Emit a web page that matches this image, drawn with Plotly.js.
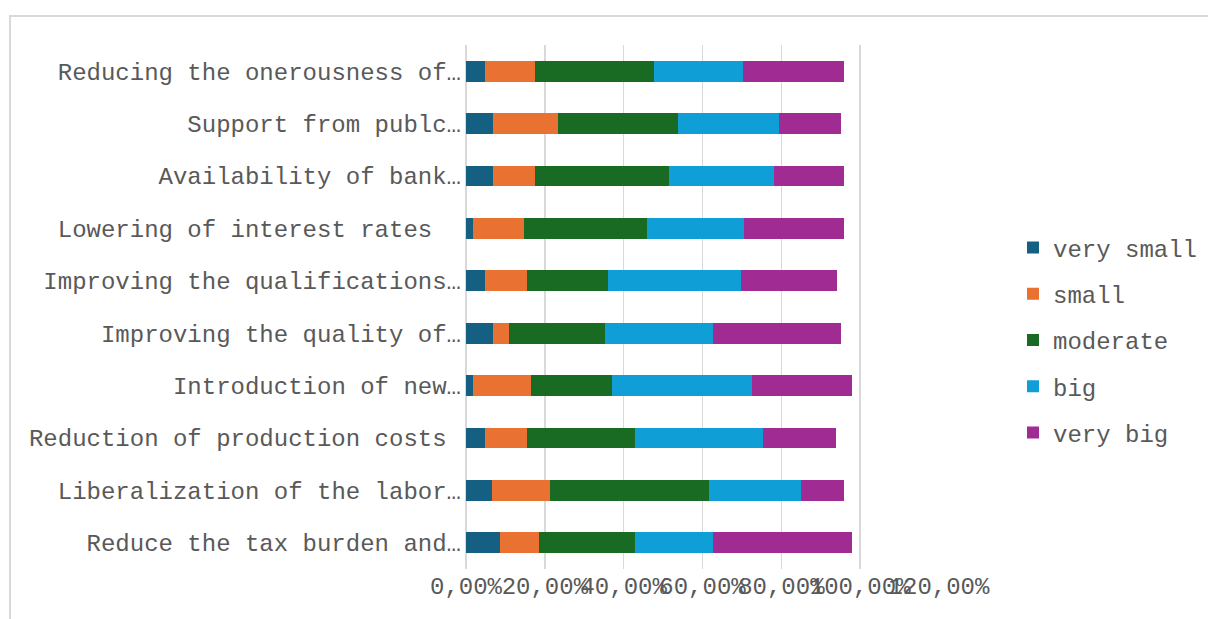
<!DOCTYPE html>
<html>
<head>
<meta charset="utf-8">
<script src="https://cdn.plot.ly/plotly-3.0.1.min.js"></script>
<style>
  html, body { margin: 0; padding: 0; background: #ffffff; }
  #frame { position: absolute; left: 9px; top: 15px; width: 1199px; height: 604px;
           border-left: 2px solid #d9d9d9; border-top: 2px solid #d9d9d9; box-sizing: border-box; }
  #chart { position: absolute; left: 0; top: 0; width: 1208px; height: 619px; }
</style>
</head>
<body>
<div id="frame"></div>
<div id="chart"></div>
<script>
// Categories, top to bottom as shown
const categories = [
  "Reducing the onerousness of…",
  "Support from publc…",
  "Availability of bank…",
  "Lowering of interest rates\u00a0\u00a0",
  "Improving the qualifications…",
  "Improving the quality of…",
  "Introduction of new…",
  "Reduction of production costs\u00a0",
  "Liberalization of the labor…",
  "Reduce the tax burden and…"
];

const seriesNames = ["very small", "small", "moderate", "big", "very big"];

// Shares (fractions), same order as categories
const verySmall = [0.048, 0.068, 0.068, 0.018, 0.048, 0.068, 0.018, 0.048, 0.067, 0.087];
const small     = [0.128, 0.166, 0.108, 0.128, 0.108, 0.040, 0.147, 0.107, 0.147, 0.099];
const moderate  = [0.302, 0.304, 0.340, 0.313, 0.205, 0.244, 0.206, 0.274, 0.403, 0.244];
const big       = [0.226, 0.257, 0.266, 0.247, 0.336, 0.275, 0.354, 0.324, 0.234, 0.197];
const veryBig   = [0.256, 0.156, 0.177, 0.253, 0.245, 0.324, 0.255, 0.186, 0.108, 0.353];

const tickValues = [0, 0.2, 0.4, 0.6, 0.8, 1.0, 1.2];

const colors = ["#156082", "#E97132", "#196B24", "#0F9ED5", "#A02B93"];
const seriesValues = [verySmall, small, moderate, big, veryBig];

const traces = seriesNames.map((name, i) => ({
  type: "bar",
  orientation: "h",
  name: name,
  legendgroup: "g" + i,
  y: categories,
  x: seriesValues[i],
  marker: { color: colors[i], line: { width: 0 } },
  hoverinfo: "x+name"
}));

const font = { family: "'Liberation Mono', 'Courier New', monospace", size: 24, color: "#595959" };

const layout = {
  width: 1208,
  height: 619,
  paper_bgcolor: "rgba(0,0,0,0)",
  plot_bgcolor: "rgba(0,0,0,0)",
  font: font,
  separators: ", ",
  barmode: "stack",
  bargap: 0.6,
  margin: { l: 466, r: 269, t: 45, b: 50, pad: 0 },
  xaxis: {
    range: [0, 1.2],
    tickmode: "array",
    tickvals: tickValues,
    tickformat: ".2%",
    tickangle: 0,
    showgrid: true,
    gridcolor: "#d9d9d9",
    gridwidth: 1.5,
    zeroline: true,
    zerolinecolor: "#d9d9d9",
    zerolinewidth: 1.5,
    showline: false,
    ticks: "",
    tickfont: font,
    fixedrange: true
  },
  yaxis: {
    type: "category",
    autorange: "reversed",
    showgrid: false,
    zeroline: false,
    showline: false,
    ticks: "",
    tickfont: font,
    ticklabelstandoff: 4,
    fixedrange: true
  },
  legend: {
    xref: "container",
    yref: "container",
    x: 1013 / 1208,
    xanchor: "left",
    y: 1 - 340 / 619,
    yanchor: "middle",
    traceorder: "grouped",
    tracegroupgap: 12,
    itemwidth: 30,
    font: font,
    bgcolor: "rgba(0,0,0,0)"
  },
  showlegend: true
};

Plotly.newPlot("chart", traces, layout, { displayModeBar: false, staticPlot: true });
</script>
</body>
</html>
